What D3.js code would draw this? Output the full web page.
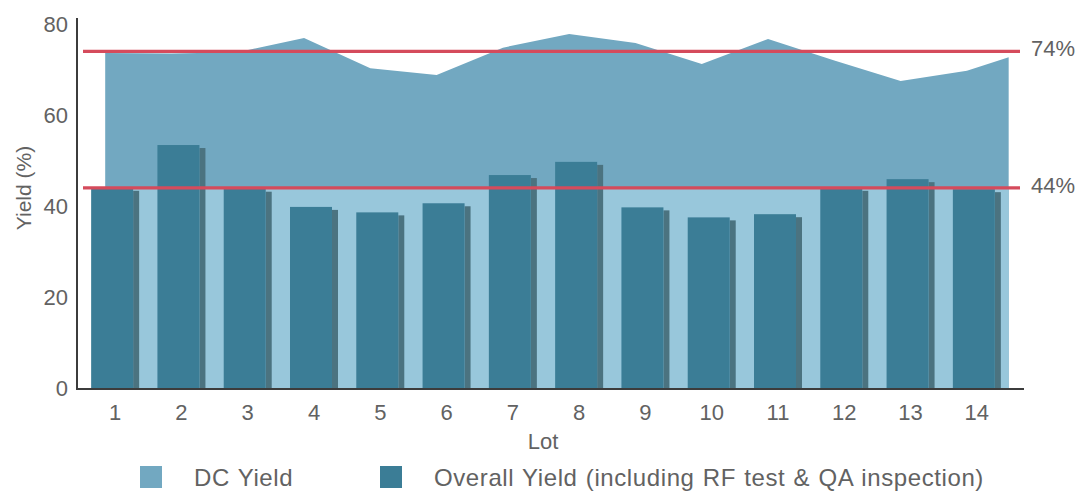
<!DOCTYPE html>
<html>
<head>
<meta charset="utf-8">
<script src="https://cdn.jsdelivr.net/npm/d3@7"></script>
<style>
  html, body { margin: 0; padding: 0; background: #ffffff; }
  svg { display: block; }
  text { font-family: "Liberation Sans", Arial, Helvetica, sans-serif; fill: #626262; }
</style>
</head>
<body>
<svg id="chart" width="1083" height="495"></svg>
<script>
// Lots on the x axis
const lots = [1, 2, 3, 4, 5, 6, 7, 8, 9, 10, 11, 12, 13, 14];
// DC yield per lot (%), drawn as the light area
const dcYield = [73.6, 73.5, 73.8, 76.9, 70.3, 68.8, 74.8, 77.8, 75.8, 71.2, 76.7, 72.0, 67.5, 69.7];
// DC yield where the area meets the right edge of the plot (%)
const dcYieldEnd = 72.7;
// Overall yield per lot (%), drawn as bars
const overallYield = [44.0, 53.4, 43.8, 39.8, 38.6, 40.6, 46.8, 49.7, 39.7, 37.5, 38.2, 44.0, 45.9, 43.7];
// Average reference lines (%)
const averages = [74, 44];
const yTicks = [0, 20, 40, 60, 80];
const legendItems = ["DC Yield", "Overall Yield (including RF test & QA inspection)"];

const colors = {
  area: "#72a8c1",
  areaLow: "#98c7db",
  bar: "#3b7d96",
  barSide: "#4b7380",
  avg: "#d54b5c",
  axis: "#3c3c3c"
};

const svg = d3.select("#chart");
const plotLeft = 82, plotRight = 1010;
const y = d3.scaleLinear().domain([0, 80]).range([388, 24]);
const x = d3.scaleBand().domain(lots).range([plotLeft, plotRight]).paddingInner(0).paddingOuter(0);
const xLot = d3.scaleLinear().domain([0.5, 14.5]).range([plotLeft, plotRight]);

// DC yield area: each lot's vertex sits a little left of the lot centre
const areaPts = lots.map((l, i) => ({ p: l - 0.15, v: dcYield[i] }));
areaPts.push({ p: 14.48, v: dcYieldEnd });
const area = d3.area().x(d => xLot(d.p)).y0(y(0)).y1(d => y(d.v));
svg.append("path").datum(areaPts).attr("d", area).attr("fill", colors.area);

// lighter band of the area below the overall average
const clipId = "dcClip";
svg.append("clipPath").attr("id", clipId)
  .append("path").datum(areaPts).attr("d", area);
svg.append("rect")
  .attr("clip-path", `url(#${clipId})`)
  .attr("x", xLot(0.5)).attr("width", xLot(14.5) - xLot(0.5))
  .attr("y", y(averages[1])).attr("height", y(0) - y(averages[1]))
  .attr("fill", colors.areaLow);

// Overall yield bars with a narrow shaded side
const barW = 48, sideW = 6;
const bars = svg.append("g").selectAll("g").data(lots).join("g")
  .attr("transform", d => `translate(${x(d) + x.bandwidth() / 2 - barW / 2},0)`);
bars.append("rect")
  .attr("x", barW - sideW).attr("width", sideW)
  .attr("y", (d, i) => y(overallYield[i]) + 3)
  .attr("height", (d, i) => y(0) - y(overallYield[i]) - 3)
  .attr("fill", colors.barSide);
bars.append("rect")
  .attr("x", 0).attr("width", barW - sideW)
  .attr("y", (d, i) => y(overallYield[i]))
  .attr("height", (d, i) => y(0) - y(overallYield[i]))
  .attr("fill", colors.bar);

// Average lines with labels
const avgG = svg.append("g");
avgG.selectAll("line").data(averages).join("line")
  .attr("x1", 83).attr("x2", 1020)
  .attr("y1", d => y(d)).attr("y2", d => y(d))
  .attr("stroke", colors.avg).attr("stroke-width", 3.2);
avgG.selectAll("text").data(averages).join("text")
  .attr("x", 1031).attr("y", d => y(d) - 3)
  .attr("dy", "0.35em")
  .attr("font-size", 22)
  .text(d => d + "%");

// Axes
svg.append("line").attr("x1", 77).attr("x2", 77).attr("y1", 18).attr("y2", 389.5)
  .attr("stroke", colors.axis).attr("stroke-width", 2);
svg.append("line").attr("x1", 76).attr("x2", 1024).attr("y1", 389).attr("y2", 389)
  .attr("stroke", colors.axis).attr("stroke-width", 2);

svg.append("g").selectAll("text").data(yTicks).join("text")
  .attr("x", 68).attr("y", d => y(d))
  .attr("dy", "0.35em").attr("text-anchor", "end")
  .attr("font-size", 22)
  .text(d => d);

svg.append("g").selectAll("text").data(lots).join("text")
  .attr("x", d => x(d) + x.bandwidth() / 2).attr("y", 412)
  .attr("dy", "0.35em").attr("text-anchor", "middle")
  .attr("font-size", 22)
  .text(d => d);

svg.append("text").attr("x", 543).attr("y", 441).attr("dy", "0.35em")
  .attr("text-anchor", "middle").attr("font-size", 22).text("Lot");

svg.append("text")
  .attr("transform", "translate(24,188) rotate(-90)")
  .attr("dy", "0.35em").attr("text-anchor", "middle")
  .attr("font-size", 21).text("Yield (%)");

// Legend
const legendX = [140, 380];
const legendColors = [colors.area, colors.bar];
const leg = svg.append("g").selectAll("g").data(legendItems).join("g")
  .attr("transform", (d, i) => `translate(${legendX[i]},466)`);
leg.append("rect").attr("width", 22).attr("height", 22)
  .attr("fill", (d, i) => legendColors[i]);
leg.append("text").attr("x", 54).attr("y", 12).attr("dy", "0.35em")
  .attr("font-size", 24).attr("letter-spacing", 0.6).attr("word-spacing", 1).text(d => d);
</script>
</body>
</html>
